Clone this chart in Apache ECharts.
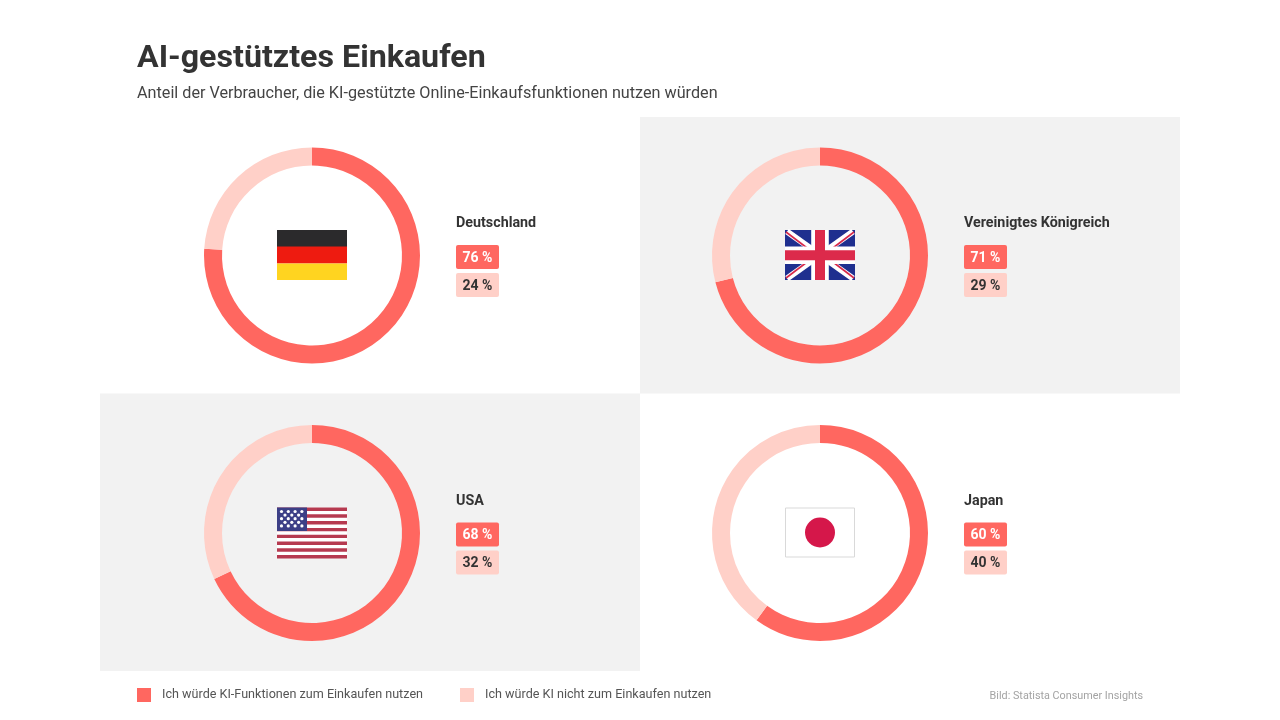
<!DOCTYPE html>
<html><head><meta charset="utf-8">
<style>html,body{margin:0;padding:0;background:#fff}#c{width:1280px;height:720px}</style>
<script src="https://cdn.jsdelivr.net/npm/echarts@6/dist/echarts.min.js"></script>
</head><body><div id="c"></div>
<script>
const titleText = 'AI-gestütztes Einkaufen';
const subtitleText = 'Anteil der Verbraucher, die KI-gestützte Online-Einkaufsfunktionen nutzen würden';
const countries = ['Deutschland', 'Vereinigtes Königreich', 'USA', 'Japan'];
const useValues = [76, 71, 68, 60];
const notUseValues = [24, 29, 32, 40];
const legendNames = ['Ich würde KI-Funktionen zum Einkaufen nutzen', 'Ich würde KI nicht zum Einkaufen nutzen'];
const sourceText = 'Bild: Statista Consumer Insights';

const DARK = '#ff6760', LIGHT = '#ffd0c8', GREY = '#f2f2f2', INK = '#333333';
const FONT = 'Roboto';
const centers = [[312, 255.5], [820, 255.5], [312, 533], [820, 533]];
const g = [];
const rect = (x, y, w, h, fill, r) => g.push({type: 'rect', silent: true, shape: {x, y, width: w, height: h, r: r || 0}, style: {fill}});
const text = (x, y, t, font, fill, align) => g.push({type: 'text', silent: true, x, y, style: {text: t, font, fill, textAlign: align || 'left', textVerticalAlign: 'middle'}});
const line = (x1, y1, x2, y2, stroke, lineWidth) => g.push({type: 'line', silent: true, shape: {x1, y1, x2, y2}, style: {stroke, lineWidth}});

rect(640, 117, 540, 276.5, GREY);
rect(100, 393.5, 540, 277.5, GREY);

function flagDE(x, y) {
  rect(x, y, 70, 17, '#2b2a2c');
  rect(x, y + 16.5, 70, 17, '#ee1b10');
  rect(x, y + 33.5, 70, 16.5, '#ffd420');
}
function flagUK(x, y) {
  const W = 70, H = 50;
  rect(x, y, W, H, '#1f2f8f');
  line(x + 2, y + 1.5, x + W - 2, y + H - 1.5, '#ffffff', 6);
  line(x + 2, y + H - 1.5, x + W - 2, y + 1.5, '#ffffff', 6);
  line(x + 1, y + 2, x + W / 2 - 1, y + H / 2 + 2, '#d6294a', 1.6);
  line(x + W / 2 + 1, y + H / 2 - 2, x + W - 1, y + H - 2, '#d6294a', 1.6);
  line(x + 1, y + H - 2, x + W / 2 - 1, y + H / 2 - 2, '#d6294a', 1.6);
  line(x + W / 2 + 1, y + H / 2 + 2, x + W - 1, y + 2, '#d6294a', 1.6);
  rect(x + 26.2, y, 17.6, H, '#ffffff');
  rect(x, y + 16.4, W, 17.6, '#ffffff');
  rect(x + 30, y, 10, H, '#dc2a4b');
  rect(x, y + 20.2, W, 10, '#dc2a4b');
}
function flagUS(x, y) {
  const sh = 51 / 15;
  rect(x, y, 70, 50.5, '#ffffff');
  for (let i = 0; i < 15; i += 2) rect(x, y + i * sh, 70, sh, '#b63a50');
  rect(x, y, 30, 23.5, '#3c3f86');
  for (let r = 0; r < 5; r++) {
    const n = r % 2 ? 3 : 4;
    for (let c = 0; c < n; c++) {
      g.push({type: 'circle', silent: true, shape: {cx: x + (r % 2 ? 8 : 4.5) + c * 6.8, cy: y + 4 + r * 3.6, r: 1.6}, style: {fill: '#ffffff'}});
    }
  }
}
function flagJP(x, y) {
  g.push({type: 'rect', silent: true, shape: {x: x + 0.5, y: y + 0.5, width: 69, height: 49}, style: {fill: '#ffffff', stroke: '#d9d9d9', lineWidth: 1}});
  g.push({type: 'circle', silent: true, shape: {cx: x + 35, cy: y + 25, r: 15}, style: {fill: '#d5174a'}});
}
const flags = [flagDE, flagUK, flagUS, flagJP];

const series = countries.map((name, i) => ({
  type: 'pie', name, silent: true, animation: false,
  center: centers[i], radius: [90, 108], startAngle: 90, clockwise: true,
  label: {show: false}, labelLine: {show: false},
  data: [
    {name: legendNames[0], value: useValues[i], itemStyle: {color: DARK}},
    {name: legendNames[1], value: notUseValues[i], itemStyle: {color: LIGHT}}
  ]
}));

countries.forEach((name, i) => {
  const [cx, cy] = centers[i];
  flags[i](cx - 35, cy - 25.5);
  const lx = cx + 144;
  text(lx, cy - 32, name, 'bold 14.3px ' + FONT, INK);
  rect(lx, cy - 10.5, 43, 24, DARK, 2);
  rect(lx, cy + 17.5, 43, 24, LIGHT, 2);
  text(lx + 21.5, cy + 2.5, useValues[i] + ' %', 'bold 14px ' + FONT, '#ffffff', 'center');
  text(lx + 21.5, cy + 30.5, notUseValues[i] + ' %', 'bold 14px ' + FONT, INK, 'center');
});
text(1143, 696, sourceText, '10.8px ' + FONT, '#a3a3a3', 'right');

const chart = echarts.init(document.getElementById('c'), null, {renderer: 'canvas'});
chart.setOption({
  animation: false,
  backgroundColor: '#ffffff',
  title: [
    {text: titleText, left: 137, top: 43, padding: 0, textStyle: {fontFamily: FONT, fontWeight: 'bold', fontSize: 32.2, color: INK}},
    {text: subtitleText, left: 137, top: 86, padding: 0, textStyle: {fontFamily: FONT, fontWeight: 'normal', fontSize: 16.2, color: '#444444'}}
  ],
  legend: {
    left: 137, top: 688, padding: 0, itemWidth: 14, itemHeight: 14, itemGap: 37, icon: 'rect', selectedMode: false,
    data: legendNames,
    textStyle: {fontFamily: FONT, fontSize: 12.6, color: '#555555', padding: [4, 0, 0, 6]}
  },
  graphic: {elements: g.map(e => Object.assign({z: 1}, e))},
  series
});
</script></body></html>
